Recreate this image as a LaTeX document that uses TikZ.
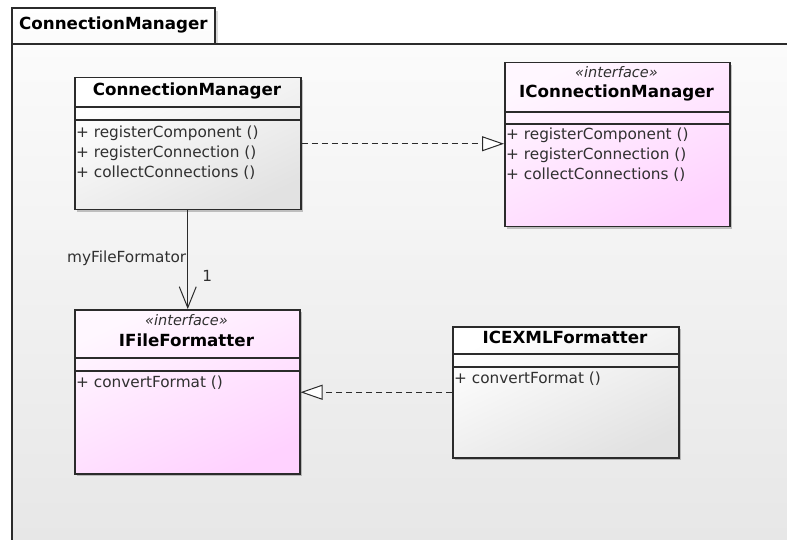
\documentclass[tikz,border=0pt]{standalone}
\usepackage{fontspec}
\setmainfont{DejaVu Sans}
\usetikzlibrary{arrows.meta,shadows}
\definecolor{edge}{HTML}{2B2B2B}
\definecolor{pinkbot}{HTML}{FFD2FF}
\definecolor{pinktop}{HTML}{FFF7FF}
\definecolor{greybot}{HTML}{E2E2E2}
\definecolor{pkgtop}{HTML}{FBFBFB}
\definecolor{pkgbot}{HTML}{E7E7E7}
\definecolor{txt}{HTML}{303030}
\tikzset{
  classbox/.style={draw=edge, line width=1.5pt, inner sep=0pt, anchor=north west,
    drop shadow={shadow xshift=2.5pt, shadow yshift=-2.5pt, opacity=0.22, fill=black}},
  plainclass/.style={classbox, top color=white, bottom color=greybot, shading angle=25},
  ifaceclass/.style={classbox, top color=pinktop, bottom color=pinkbot, shading angle=25},
  sepline/.style={draw=edge, line width=1.1pt},
  cname/.style={font=\fontsize{16.7}{19}\selectfont\bfseries, text=black, inner sep=0pt},
  stereo/.style={font=\fontsize{14.5}{17}\selectfont\itshape, text=txt, inner sep=0pt},
  op/.style={font=\fontsize{15.3}{18}\selectfont, text=txt, inner sep=0pt, anchor=west},
  lbl/.style={font=\fontsize{15.3}{18}\selectfont, text=txt, inner sep=0pt},
  realize/.style={draw=edge, line width=1pt, dash pattern=on 6pt off 4pt,
    -{Triangle[open, length=22pt, width=15pt, fill=white]}},
  assoc/.style={draw=edge, line width=1pt, -{Straight Barb[length=21pt, width=17pt]}},
}
\begin{document}
\begin{tikzpicture}[x=1pt,y=-1pt]
\useasboundingbox (0,0) rectangle (787,540);
\fill[white] (0,0) rectangle (787,540);
% package frame
\shade[top color=pkgtop, bottom color=pkgbot] (12,44) rectangle (787,540);
\fill[black, opacity=0.15] (215,11) rectangle (218,44);
\shade[top color=white, bottom color=pkgtop] (12,8) rectangle (215,44);
\draw[edge, line width=1.5pt] (12,540) -- (12,44) -- (787,44);
\draw[edge, line width=1.5pt] (12,44) -- (12,8) -- (215,8) -- (215,44);
\node[cname, anchor=west] (pkglabel) at (19,25) {ConnectionManager};

% ConnectionManager class
\node[plainclass, minimum width=226pt, minimum height=132pt] (cm) at (74,77) {};
\draw[sepline] (74,107) -- (300,107);
\draw[sepline] (74,120) -- (300,120);
\node[cname] (cmname) at (187,91) {ConnectionManager};
\node[op] (cmop1) at (76,133) {+ registerComponent ()};
\node[op] (cmop2) at (76,153) {+ registerConnection ()};
\node[op] (cmop3) at (76,173) {+ collectConnections ()};

% IConnectionManager interface
\node[ifaceclass, minimum width=225pt, minimum height=164pt] (icm) at (504,62) {};
\draw[sepline] (504,112) -- (729,112);
\draw[sepline] (504,124) -- (729,124);
\node[stereo] (icmst) at (616.5,72) {«interface»};
\node[cname] (icmname) at (616.5,93) {IConnectionManager};
\node[op] (icmop1) at (506,135) {+ registerComponent ()};
\node[op] (icmop2) at (506,155) {+ registerConnection ()};
\node[op] (icmop3) at (506,175) {+ collectConnections ()};

% IFileFormatter interface
\node[ifaceclass, minimum width=225pt, minimum height=164pt] (iff) at (74,309) {};
\draw[sepline] (74,358) -- (299,358);
\draw[sepline] (74,371) -- (299,371);
\node[stereo] (iffst) at (186.5,320) {«interface»};
\node[cname] (iffname) at (186.5,340) {IFileFormatter};
\node[op] (iffop1) at (76,383) {+ convertFormat ()};

% ICEXMLFormatter class
\node[plainclass, minimum width=226pt, minimum height=131pt] (icex) at (452,326) {};
\draw[sepline] (452,354) -- (678,354);
\draw[sepline] (452,367) -- (678,367);
\node[cname] (icexname) at (565,337) {ICEXMLFormatter};
\node[op] (icexop1) at (454,379) {+ convertFormat ()};

% connectors
\draw[realize] (cm.east) -- (cm.east -| icm.west);
\draw[realize] (icex.west) -- (icex.west -| iff.east);
\draw[assoc] (cm.south) -- (cm.south |- iff.north)
  node[lbl, pos=0.49, anchor=east, xshift=-1pt] (rolelbl) {myFileFormator}
  node[lbl, pos=0.66, anchor=west, xshift=14pt] (multlbl) {1};
\end{tikzpicture}
\end{document}
